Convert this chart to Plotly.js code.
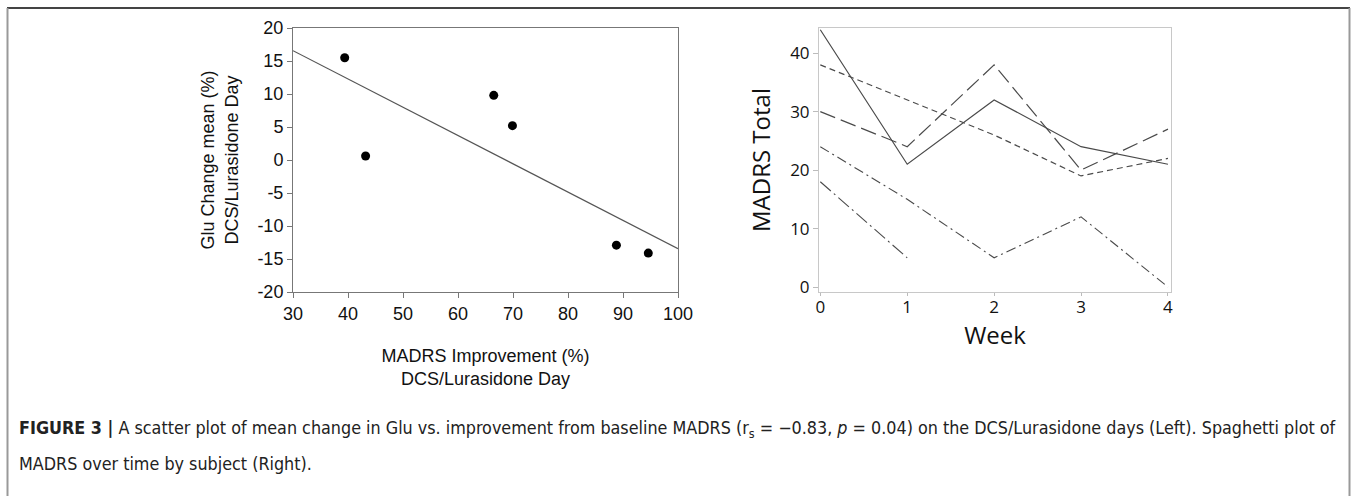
<!DOCTYPE html>
<html>
<head>
<meta charset="utf-8">
<script src="https://cdn.plot.ly/plotly-3.0.1.min.js"></script>
<style>
html,body{margin:0;padding:0;background:#fff;}
#chart{width:1357px;height:496px;}
</style>
</head>
<body>
<div id="chart"></div>
<script>
// Left panel: scatter of MADRS improvement vs Glu change
const madrsImprovement = [39.4, 43.2, 66.5, 69.9, 88.8, 94.6];
const gluChange = [15.5, 0.6, 9.8, 5.2, -12.9, -14.1];
const leftXTicks = [30, 40, 50, 60, 70, 80, 90, 100];
const leftYTicks = [-20, -15, -10, -5, 0, 5, 10, 15, 20];

// Right panel: spaghetti plot of MADRS by subject
const weeks = [0, 1, 2, 3, 4];
const subjectA = [44, 21, 32, 24, 21];
const subjectB = [38, 32, 26, 19, 22];
const subjectC = [30, 24, 38, 20, 27];
const subjectD = [24, 15, 5, 12, 0];
const subjectE = [18, 5];
const rightYTicks = [0, 10, 20, 30, 40];

// least-squares fit line from the data
function fit(xs, ys) {
  const n = xs.length;
  const mx = xs.reduce((a, b) => a + b, 0) / n;
  const my = ys.reduce((a, b) => a + b, 0) / n;
  let sxy = 0, sxx = 0;
  for (let i = 0; i < n; i++) { sxy += (xs[i] - mx) * (ys[i] - my); sxx += (xs[i] - mx) ** 2; }
  const b = sxy / sxx;
  return { a: my - b * mx, b: b };
}
const f = fit(madrsImprovement, gluChange);
const fitX = [leftXTicks[0], leftXTicks[leftXTicks.length - 1]];
const fitY = fitX.map(x => f.a + f.b * x);

const lineCol = '#4a4a4a';
const traces = [
  { x: fitX, y: fitY, mode: 'lines', line: { color: '#555', width: 1.2 }, xaxis: 'x', yaxis: 'y', hoverinfo: 'skip' },
  { x: madrsImprovement, y: gluChange, mode: 'markers', marker: { color: '#000', size: 9 }, xaxis: 'x', yaxis: 'y' },
  { x: weeks, y: subjectA, mode: 'lines', line: { color: lineCol, width: 1.2, dash: 'solid' }, xaxis: 'x2', yaxis: 'y2' },
  { x: weeks, y: subjectB, mode: 'lines', line: { color: lineCol, width: 1.2, dash: '6px,4px' }, xaxis: 'x2', yaxis: 'y2' },
  { x: weeks, y: subjectC, mode: 'lines', line: { color: lineCol, width: 1.2, dash: '16px,6px' }, xaxis: 'x2', yaxis: 'y2' },
  { x: weeks, y: subjectD, mode: 'lines', line: { color: lineCol, width: 1.1, dash: '10px,4px,2px,4px' }, xaxis: 'x2', yaxis: 'y2' },
  { x: weeks.slice(0, subjectE.length), y: subjectE, mode: 'lines', line: { color: lineCol, width: 1.1, dash: '14px,4px,2px,4px' }, xaxis: 'x2', yaxis: 'y2' }
];

const W = 1357, H = 496;
const arial = 'Liberation Sans, Arial, sans-serif';
const calibri = 'Open Sans, Lato, sans-serif';
const capFont = { family: 'DejaVu Sans Condensed, Liberation Sans Narrow, sans-serif', size: 17.8, color: '#222' };

const layout = {
  width: W, height: H,
  margin: { l: 0, r: 0, t: 0, b: 0 },
  paper_bgcolor: '#fff', plot_bgcolor: '#fff',
  showlegend: false,
  xaxis: {
    domain: [293 / W, 678 / W], range: [30, 100], tickvals: leftXTicks,
    showline: true, mirror: true, linecolor: '#777', linewidth: 1,
    ticks: 'outside', ticklen: 5, tickcolor: '#777',
    showgrid: false, zeroline: false,
    tickfont: { family: arial, size: 18, color: '#111' },
    title: { text: 'MADRS Improvement (%)<br>DCS/Lurasidone Day', font: { family: arial, size: 18, color: '#111' }, standoff: 26 }
  },
  yaxis: {
    domain: [1 - 292 / H, 1 - 28 / H], range: [-20, 20],
    tickvals: leftYTicks, ticktext: leftYTicks.map(String),
    showline: true, mirror: true, linecolor: '#777', linewidth: 1,
    ticks: 'outside', ticklen: 5, tickcolor: '#777',
    showgrid: false, zeroline: false,
    tickfont: { family: arial, size: 18, color: '#111' },
    title: { text: 'Glu Change mean (%)<br>DCS/Lurasidone Day', font: { family: arial, size: 18, color: '#111' }, standoff: 14 }
  },
  xaxis2: {
    domain: [819 / W, 1171 / W], range: [-0.015, 4.035], tickvals: weeks,
    anchor: 'y2',
    showline: true, mirror: true, linecolor: '#c8c8c8', linewidth: 1,
    ticks: 'outside', ticklen: 3, tickcolor: '#bbb',
    ticklabelstandoff: -3,
    showgrid: false, zeroline: false,
    tickfont: { family: calibri, size: 17, color: '#111' },
    title: { text: 'Week', font: { family: calibri, size: 24, color: '#111' }, standoff: 0 }
  },
  yaxis2: {
    domain: [1 - 292 / H, 1 - 28 / H], range: [-0.85, 44.3], tickvals: rightYTicks,
    anchor: 'x2',
    showline: true, mirror: true, linecolor: '#c8c8c8', linewidth: 1,
    ticks: 'outside', ticklen: 5, tickcolor: '#bbb',
    showgrid: false, zeroline: false,
    tickfont: { family: calibri, size: 17, color: '#111' },
    title: { text: 'MADRS Total', font: { family: calibri, size: 24, color: '#111' }, standoff: 12 }
  },
  shapes: [
    { type: 'line', xref: 'paper', yref: 'paper', x0: 7 / W, x1: 1350 / W, y0: 1 - 8 / H, y1: 1 - 8 / H, line: { color: '#444', width: 2 } },
    { type: 'line', xref: 'paper', yref: 'paper', x0: 7.5 / W, x1: 7.5 / W, y0: 0, y1: 1 - 8 / H, line: { color: '#999', width: 2 } },
    { type: 'line', xref: 'paper', yref: 'paper', x0: 1349.5 / W, x1: 1349.5 / W, y0: 0, y1: 1 - 8 / H, line: { color: '#999', width: 2 } }
  ],
  annotations: [
    { xref: 'paper', yref: 'paper', x: 17 / W, y: 1 - 429 / H, xanchor: 'left', yanchor: 'middle', showarrow: false, align: 'left',
      text: '<b>FIGURE 3 |</b> A scatter plot of mean change in Glu vs. improvement from baseline MADRS (r<sub>s</sub> = −0.83, <i>p</i> = 0.04) on the DCS/Lurasidone days (Left). Spaghetti plot of',
      font: capFont },
    { xref: 'paper', yref: 'paper', x: 17 / W, y: 1 - 463 / H, xanchor: 'left', yanchor: 'middle', showarrow: false, align: 'left',
      text: 'MADRS over time by subject (Right).',
      font: capFont }
  ]
};

Plotly.newPlot('chart', traces, layout, { displayModeBar: false, staticPlot: true });
</script>
</body>
</html>
